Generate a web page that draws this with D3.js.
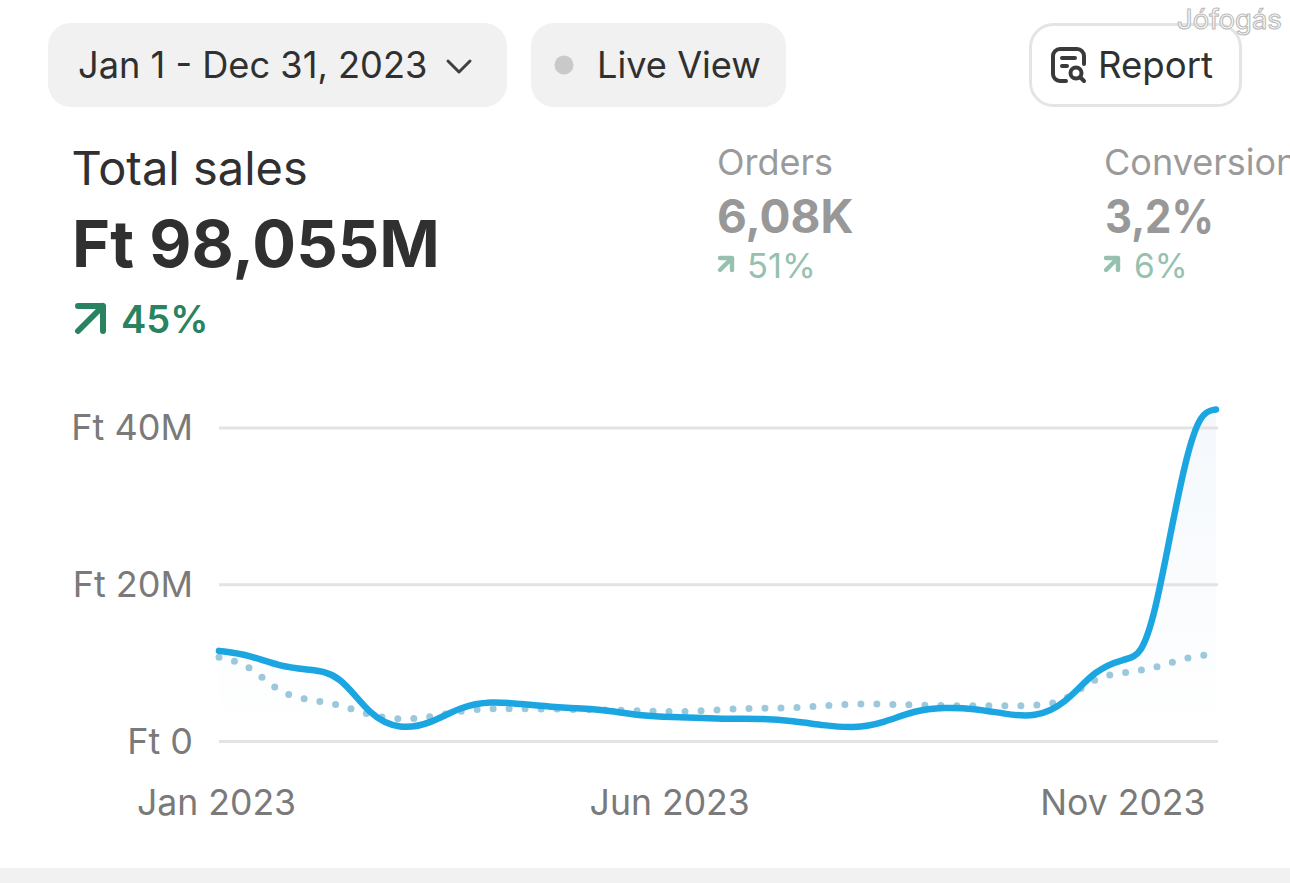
<!DOCTYPE html>
<html><head><meta charset="utf-8">
<script src="https://cdn.jsdelivr.net/npm/d3@7"></script>
<style>html,body{margin:0;padding:0;background:#fff;overflow:hidden}svg{display:block}text{font-family:Inter,"Noto Sans",sans-serif}</style>
</head><body><svg id="c" width="1290" height="883"></svg>
<script>
// month index: 0 = Jan 2023 … 11 = Dec 2023
const salesMonths = [0,1/3,2/3,1,4/3,5/3,2,7/3,8/3,3,10/3,11/3,4,13/3,14/3,5,16/3,17/3,6,19/3,20/3,7,22/3,23/3,8,25/3,26/3,9,9.33,9.67,10,10.17,10.33,10.5,10.67,10.83,11];
const salesValues = [11.5,11.0,9.5,9.1,8.6,3.1,1.45,2.2,4.4,5.1,4.7,4.35,4.15,3.85,3.2,3.05,2.95,2.8,2.85,2.55,2.0,1.6,2.3,3.9,4.3,4.15,3.45,3.0,4.6,9.2,10.5,10.8,16.35,26.6,36.3,42,42.3];
const prevMonths = [0,1/3,2/3,1,4/3,5/3,2,7/3,8/3,3,10/3,11/3,4,13/3,14/3,5,16/3,17/3,6,19/3,20/3,7,22/3,23/3,8,25/3,26/3,9,9.33,9.67,10,10.33,10.67,11];
const prevValues = [10.7,9.8,6.0,5.2,4.7,3.2,2.7,3.0,3.9,4.15,4.1,4.1,4.0,3.95,3.85,3.7,3.85,4.1,4.2,4.2,4.5,4.75,4.7,4.6,4.5,4.5,4.5,4.5,4.9,8.3,8.7,9.3,10.7,11.1];
const monthLabels = ["Jan 2023","Feb 2023","Mar 2023","Apr 2023","May 2023","Jun 2023","Jul 2023","Aug 2023","Sep 2023","Oct 2023","Nov 2023","Dec 2023"];
const xTicks = [0,5,10];
const yTicks = [0,20,40];
const yTickLabels = ["Ft 0","Ft 20M","Ft 40M"];

const svg = d3.select("#c");
const x = d3.scaleLinear().domain([0,11]).range([219,1216]);
const y = d3.scaleLinear().domain([0,40]).range([741,427.5]);

// header chips
svg.append("rect").attr("x",48).attr("y",23).attr("width",459).attr("height",84).attr("rx",23).attr("fill","#f1f1f1");
svg.append("rect").attr("x",531).attr("y",23).attr("width",255).attr("height",84).attr("rx",23).attr("fill","#f1f1f1");
svg.append("rect").attr("x",1030.5).attr("y",24.5).attr("width",210).attr("height",81).attr("rx",23).attr("fill","#fff").attr("stroke","#e4e4e4").attr("stroke-width",3);
const T=(s,px,py,size,fill,weight)=>svg.append("text").attr("x",px).attr("y",py).attr("font-size",size).attr("fill",fill).attr("font-weight",weight||400).text(s);
T("Jan 1 - Dec 31, 2023",78,78,36.2,"#303030",400);
svg.append("path").attr("d","M448 61l11 11l11 -11").attr("fill","none").attr("stroke","#404040").attr("stroke-width",3).attr("stroke-linecap","round").attr("stroke-linejoin","round");
svg.append("circle").attr("cx",564).attr("cy",65).attr("r",9.5).attr("fill","#c9c9c9");
T("Live View",597,78,36.2,"#303030",400);
T("Report",1098,78,36.6,"#303030",400);
// report icon
const ic=svg.append("g").attr("fill","none").attr("stroke","#3a3a3a").attr("stroke-width",4).attr("stroke-linecap","round").attr("stroke-linejoin","round");
ic.append("path").attr("d","M1066 81h-6a7 7 0 0 1 -7 -7v-18a7 7 0 0 1 7 -7h17a7 7 0 0 1 7 7v8");
ic.append("path").attr("d","M1062 58h13M1062 66h5");
ic.append("circle").attr("cx",1076).attr("cy",73).attr("r",5.5);
ic.append("path").attr("d","M1080 77l4 4");
// watermark
svg.append("text").attr("x",1177).attr("y",29).attr("font-size",27.5).attr("font-family","Liberation Sans").attr("fill","#fff").attr("stroke","#bdbdbd").attr("stroke-width",1.2).text("Jófogás");

// KPIs
T("Total sales",71.5,185,47,"#303030",400);
T("Ft 98,055M",72,267,65,"#303030",700);
svg.append("path").attr("d","M78 306h25v25M103 306l-25 25").attr("fill","none").attr("stroke","#2a8360").attr("stroke-width",6).attr("stroke-linecap","round").attr("stroke-linejoin","round");
T("45%",121,333,38,"#2a8360",600);
T("Orders",717,174.5,36,"#9a9a9a",400);
T("6,08K",717,233,46,"#989898",700);
svg.append("path").attr("d","M720 258h12v12M732 258l-12 12").attr("fill","none").attr("stroke","#95c1ae").attr("stroke-width",4.4).attr("stroke-linecap","round").attr("stroke-linejoin","round");
T("51%",747,278,34.5,"#95c1ae",400);
T("Conversion",1104,174.5,36,"#9a9a9a",400);
T("3,2%",1105,233,46,"#989898",700).attr("textLength",109).attr("lengthAdjust","spacingAndGlyphs");
svg.append("path").attr("d","M1106 258h12v12M1118 258l-12 12").attr("fill","none").attr("stroke","#95c1ae").attr("stroke-width",4.4).attr("stroke-linecap","round").attr("stroke-linejoin","round");
T("6%",1134,278,33.5,"#95c1ae",400);

// area gradient
const defs=svg.append("defs");
const g=defs.append("linearGradient").attr("id","fade").attr("x1",0).attr("x2",0).attr("y1",0).attr("y2",1);
g.append("stop").attr("offset",0).attr("stop-color","#e3edf8").attr("stop-opacity",.4);
g.append("stop").attr("offset",1).attr("stop-color","#e3edf8").attr("stop-opacity",0);
const sales=salesMonths.map((m,i)=>({m,v:salesValues[i]}));
const prev=prevMonths.map((m,i)=>({m,v:prevValues[i]}));
const curve=d3.curveBasis;
svg.append("path").datum(sales).attr("fill","url(#fade)")
  .attr("d",d3.area().x(d=>x(d.m)).y0(y(0)).y1(d=>y(d.v)).curve(curve));

// axes
const yAxis=svg.append("g").attr("transform","translate(219,0)")
  .call(d3.axisLeft(y).tickValues(yTicks).tickFormat((d,i)=>yTickLabels[i]).tickSize(-999).tickPadding(26));
yAxis.select(".domain").remove();
yAxis.selectAll("line").attr("stroke","#e3e3e3").attr("stroke-width",3);
yAxis.selectAll("text").attr("font-size",36).attr("fill","#7a7a7a").attr("font-family",'Inter,"Noto Sans",sans-serif').attr("dy","0.34em");
const xAxis=svg.append("g").attr("transform","translate(-3,741)")
  .call(d3.axisBottom(x).tickValues(xTicks).tickFormat(d=>monthLabels[d]).tickSize(0).tickPadding(48.5));
xAxis.select(".domain").remove();
xAxis.selectAll("text").attr("font-size",35.6).attr("fill","#7a7a7a").attr("font-family",'Inter,"Noto Sans",sans-serif').attr("dy","0.71em");

// lines
const line=d3.line().x(d=>x(d.m)).y(d=>y(d.v)).curve(curve);
svg.append("path").datum(prev).attr("d",line).attr("fill","none").attr("stroke","#9cc8dc").attr("stroke-width",7).attr("stroke-linecap","round").attr("stroke-dasharray","0 16");
svg.append("path").datum(sales).attr("d",line).attr("fill","none").attr("stroke","#1ba6e2").attr("stroke-width",6.5).attr("stroke-linecap","round");

// bottom strip
svg.append("rect").attr("x",0).attr("y",868).attr("width",1290).attr("height",15).attr("fill","#f1f1f1");
</script></body></html>
